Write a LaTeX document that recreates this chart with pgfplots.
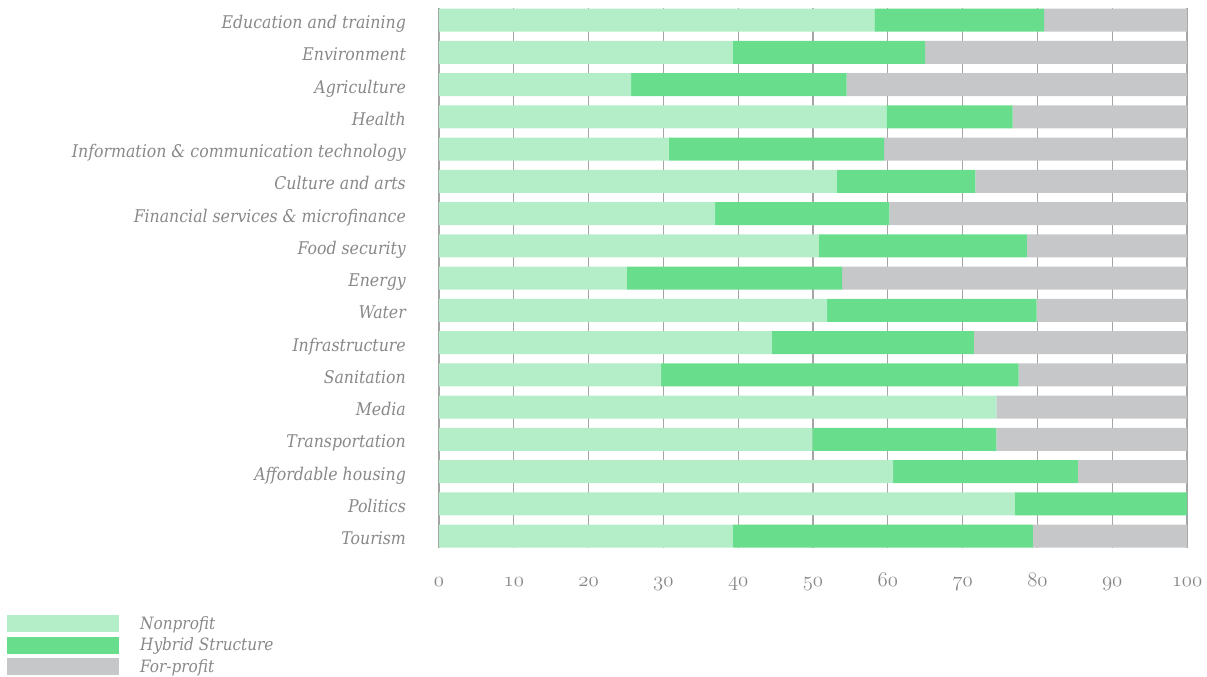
\documentclass[border=0pt]{standalone}
\usepackage{fontspec}
\newfontfamily\lblf{DejaVu Serif Condensed}
\usepackage{pgfplots}
\pgfplotsset{compat=1.18}
\usepackage{pgfplotstable}
\definecolor{np}{HTML}{B4EEC8}
\definecolor{hy}{HTML}{68DE8C}
\definecolor{fp}{HTML}{C6C7C9}
\definecolor{txt}{HTML}{888888}
\definecolor{gridc}{HTML}{A5A5A5}
\pgfplotstableread[col sep=comma]{
idx,np,hy,fp
0,58.2,22.7,19.1
1,39.3,25.7,35.0
2,25.7,28.8,45.5
3,59.8,16.9,23.3
4,30.7,28.8,40.5
5,53.2,18.5,28.3
6,36.9,23.3,39.8
7,50.8,27.8,21.4
8,25.1,28.8,46.1
9,51.9,28.0,20.1
10,44.5,27.0,28.5
11,29.7,47.8,22.5
12,74.5,0,25.5
13,49.9,24.6,25.5
14,60.7,24.7,14.6
15,77.0,23.0,0
16,39.3,40.1,20.6
}\data
\pgfplotsset{myleg/.style={legend image code/.code={\fill[##1] (0pt,-8.5pt) rectangle (112pt,8.5pt);}}}
\newcommand\lblfont{\fontsize{17.5}{20}\selectfont\lblf\itshape}
\newcommand\legfont{\fontsize{17}{20}\selectfont\lblf\itshape}
\newcommand\osn[1]{{\usefont{OML}{lmm}{m}{it}#1}}
\begin{document}
\begin{tikzpicture}
\useasboundingbox (0pt,0pt) rectangle (1207pt,-677pt);
\begin{axis}[
  at={(439pt,-548pt)}, anchor=south west,
  width=748pt, height=540pt, scale only axis,
  xbar stacked, bar width=23pt,
  xmin=0, xmax=100, ymin=-0.372, ymax=16.372, y dir=reverse,
  axis line style={draw=none},
  major tick length=0pt,
  xtick={0,10,...,100},
  xticklabels={\osn{0},\osn{10},\osn{20},\osn{30},\osn{40},\osn{50},\osn{60},\osn{70},\osn{80},\osn{90},\osn{100}},
  xmajorgrids, grid style={draw=gridc, line width=1.3pt},
  ytick={0,...,16},
  yticklabels={Education and training,Environment,Agriculture,Health,Information \& communication technology,Culture and arts,Financial services \& microfinance,Food security,Energy,Water,Infrastructure,Sanitation,Media,Transportation,Affordable housing,Politics,Tourism},
  tick label style={inner sep=0pt, text=txt},
  xticklabel style={font=\fontsize{21}{24}\selectfont, anchor=base, yshift=-38pt},
  yticklabel style={font=\lblfont, anchor=base east, xshift=-33pt, yshift=-8.5pt},
  legend style={at={(-0.5775,-0.1241)}, anchor=north west, draw=none, fill=none, inner sep=0pt, row sep=4.5pt, column sep=21pt, font=\legfont, text=txt, nodes={inner sep=0pt}},
  legend cell align=left,
]
\addplot[myleg, fill=np, draw=none] table[x=np, y=idx] {\data};
\addplot[myleg, fill=hy, draw=none] table[x=hy, y=idx] {\data};
\addplot[myleg, fill=fp, draw=none] table[x=fp, y=idx] {\data};
\legend{Nonprofit, Hybrid Structure, For-profit}
\end{axis}
\end{tikzpicture}
\end{document}
